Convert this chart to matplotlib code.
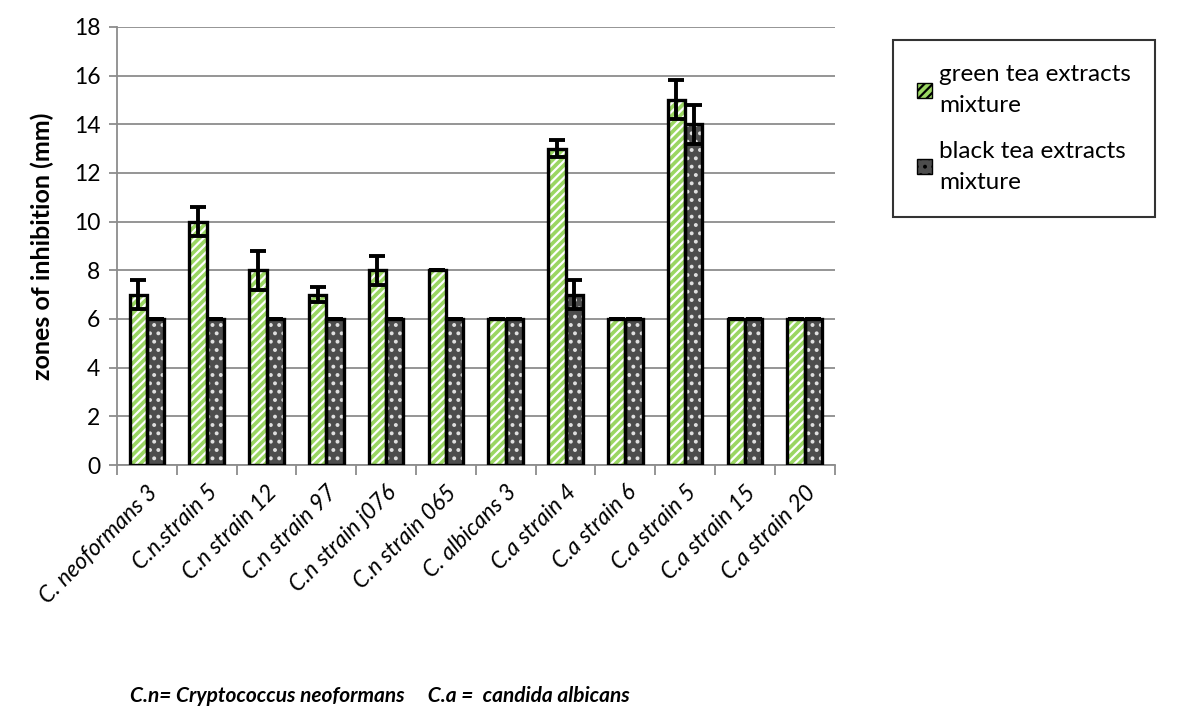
import numpy as np
import matplotlib.pyplot as plt
from matplotlib.patches import Patch

plt.rcParams['font.family'] = ['Lato', 'DejaVu Sans']
plt.rcParams['hatch.linewidth'] = 1.6

strains = ["C. neoformans 3", "C.n.strain 5", "C.n strain 12", "C.n strain 97",
           "C.n strain j076", "C.n strain 065", "C. albicans 3", "C.a strain 4",
           "C.a strain 6", "C.a strain 5", "C.a strain 15", "C.a strain 20"]
green_tea = [7, 10, 8, 7, 8, 8, 6, 13, 6, 15, 6, 6]
green_err = [0.6, 0.6, 0.8, 0.3, 0.6, 0, 0, 0.35, 0, 0.8, 0, 0]
black_tea = [6, 6, 6, 6, 6, 6, 6, 7, 6, 14, 6, 6]
black_err = [0, 0, 0, 0, 0, 0, 0, 0.6, 0, 0.8, 0, 0]

green_face = '#9ad662'
black_face = '#4d4d4d'

fig = plt.figure(figsize=(11.87, 7.26), dpi=100)
ax = fig.add_axes([0.0986, 0.3595, 0.6045, 0.6035])

x = np.arange(len(strains))
w = 0.29

# hatched fill first, then a plain outline on top so the hatch stays white
ax.bar(x - w / 2, green_tea, w, color=green_face, edgecolor='white', hatch='////', linewidth=0, zorder=2)
ax.bar(x + w / 2, black_tea, w, color=black_face, edgecolor='#e0e0e0', hatch='..', linewidth=0, zorder=2)
ax.bar(x - w / 2, green_tea, w, fill=False, edgecolor='black', linewidth=2.4, zorder=3)
ax.bar(x + w / 2, black_tea, w, fill=False, edgecolor='black', linewidth=2.4, zorder=3)

ax.errorbar(x - w / 2, green_tea, yerr=green_err, fmt='none', ecolor='black',
            elinewidth=2.8, capsize=6, capthick=2.8, zorder=4)
ax.errorbar(x + w / 2, black_tea, yerr=black_err, fmt='none', ecolor='black',
            elinewidth=2.8, capsize=6, capthick=2.8, zorder=4)

ax.set_xlim(-0.5, len(strains) - 0.5)
ax.set_ylim(0, 18)
ax.set_yticks(np.arange(0, 19, 2))
ax.yaxis.grid(True, color='#8c8c8c', linewidth=1.3)
ax.set_axisbelow(True)

ax.set_xticks(np.arange(len(strains) + 1) - 0.5)
ax.set_xticklabels([])
ax.set_xticks(x, minor=True)
ax.set_xticklabels(strains, minor=True, rotation=45, ha='right', rotation_mode='anchor',
                   fontsize=16.5, style='italic')
ax.tick_params(axis='x', which='minor', length=0, pad=12)
ax.tick_params(axis='x', which='major', length=7, color='#8c8c8c', width=1.3)
ax.tick_params(axis='y', length=6, color='#8c8c8c', width=1.3, labelsize=16.5, pad=6)

for side in ['top', 'right']:
    ax.spines[side].set_visible(False)
for side in ['left', 'bottom']:
    ax.spines[side].set_color('#8c8c8c')
    ax.spines[side].set_linewidth(1.3)

ax.set_ylabel('zones of inhibition (mm)', fontsize=18, fontweight='bold', labelpad=14)

handles = [Patch(facecolor=green_face, edgecolor='black', hatch='////'),
           Patch(facecolor=black_face, edgecolor='black', hatch='..')]
leg = fig.legend(handles, ['green tea extracts\nmixture', 'black tea extracts\nmixture'],
                 loc='upper left', bbox_to_anchor=(0.752, 0.945), borderaxespad=0,
                 fontsize=17.5, frameon=True, fancybox=False, edgecolor='black',
                 handlelength=0.6, handleheight=0.6, handletextpad=0.3,
                 labelspacing=1.0, borderpad=1.0, alignment='left')
leg.get_frame().set_linewidth(1.5)
for t in leg.get_texts():
    t.set_linespacing(1.6)

fig.text(0.32, 0.041, 'C.n= Cryptococcus neoformans     C.a =  candida albicans',
         fontsize=15, fontweight='bold', style='italic', ha='center', va='center')

fig.savefig('out.png', dpi=100)
